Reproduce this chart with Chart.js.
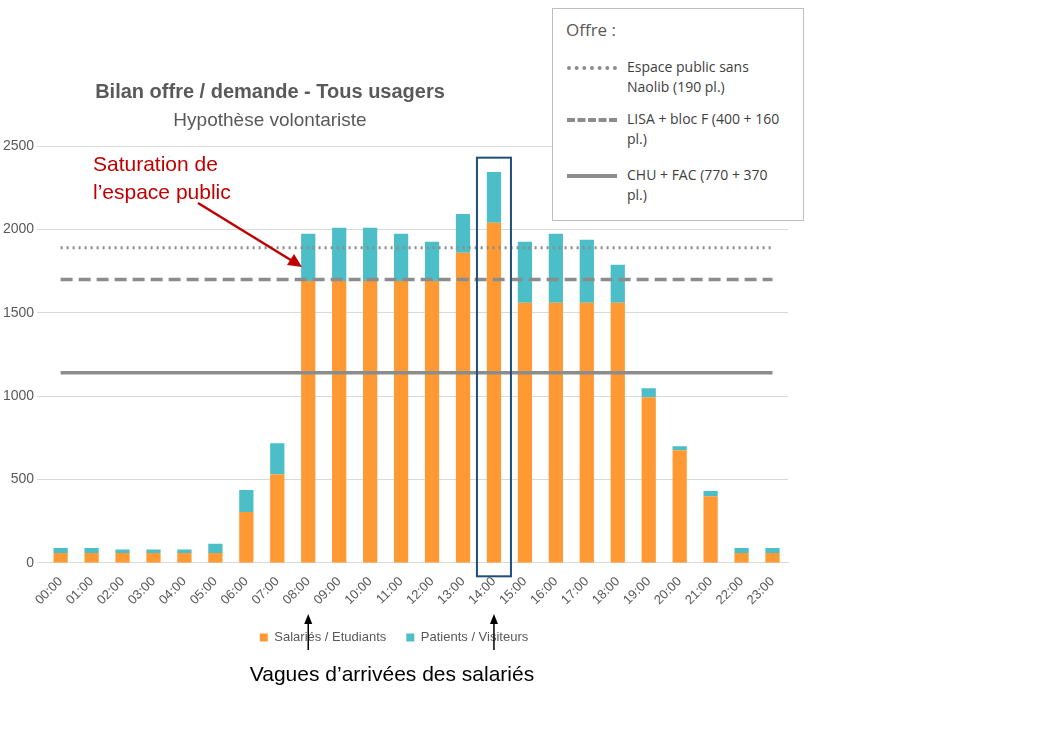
<!DOCTYPE html>
<html>
<head>
<meta charset="utf-8">
<script src="https://cdn.jsdelivr.net/npm/chart.js@4"></script>
<style>
  body { margin:0; background:#fff; font-family:"Liberation Sans", Arial, sans-serif; }
  #wrap { position:relative; width:1058px; height:734px; }
  #offre { position:absolute; left:552px; top:8px; width:250px; height:211px; border:1px solid #bfbfbf; background:#fff;
           font-family:"Open Sans", sans-serif; color:#404040; font-size:14px; }
  #offre .t { position:absolute; left:13px; top:9px; font-size:17px; color:#595959; }
  #offre .row { position:absolute; left:14px; width:230px; }
  #offre .sw { position:absolute; left:0; top:9px; width:50px; border-top:3px #8c8c8c; }
  #offre .lb { position:absolute; left:60px; top:0; line-height:20px; }
</style>
</head>
<body>
<div id="wrap">
  <canvas id="c" width="1058" height="734"></canvas>
  <div id="offre">
    <div class="t">Offre :</div>
    <div class="row" style="top:48px"><div class="sw" style="border-top-style:dotted;border-top-width:4px"></div><div class="lb">Espace public sans<br>Naolib (190 pl.)</div></div>
    <div class="row" style="top:100px"><div class="sw" style="border-top-style:dashed;border-top-width:4px"></div><div class="lb">LISA + bloc F (400 + 160<br>pl.)</div></div>
    <div class="row" style="top:156px"><div class="sw" style="border-top-style:solid;border-top-width:4px"></div><div class="lb">CHU + FAC (770 + 370<br>pl.)</div></div>
  </div>
</div>
<script>
// Heures et demandes (véhicules)
const heures = ['00:00','01:00','02:00','03:00','04:00','05:00','06:00','07:00','08:00','09:00','10:00','11:00',
                '12:00','13:00','14:00','15:00','16:00','17:00','18:00','19:00','20:00','21:00','22:00','23:00'];
const salaries = [60,60,60,60,60,60,305,532,1690,1690,1690,1690,1690,1860,2040,1560,1560,1560,1560,993,676,400,60,60];
const patients = [30,30,20,20,20,55,132,186,284,320,320,284,236,233,304,366,414,378,228,54,24,31,30,30];
// Offre
const offreEspacePublic = 1890;
const offreLisa = 1700;
const offreChu = 1140;
const yTicks = [0,500,1000,1500,2000,2500];

const annotations = {
  id:'annotations',
  afterDraw(chart) {
    const ctx = chart.ctx, x = chart.scales.x, y = chart.scales.y;
    ctx.save();
    ctx.textAlign = 'center';
    ctx.fillStyle = '#595959';
    ctx.font = 'bold 20px "Liberation Sans", Arial';
    ctx.fillText('Bilan offre / demande - Tous usagers', 270, 92);
    ctx.font = '19px "Liberation Sans", Arial';
    ctx.fillText('Hypothèse volontariste', 270, 121);
    // saturation
    ctx.textAlign = 'left';
    ctx.fillStyle = '#c00000';
    ctx.font = '21px "Liberation Sans", Arial';
    ctx.fillText('Saturation de', 93, 165);
    ctx.fillText('l\u2019espace public', 93, 193);
    ctx.strokeStyle = '#c00000'; ctx.lineWidth = 2.5;
    ctx.beginPath(); ctx.moveTo(198, 203); ctx.lineTo(294, 262); ctx.stroke();
    ctx.fillStyle = '#c00000';
    ctx.beginPath(); ctx.moveTo(302, 267); ctx.lineTo(287, 265); ctx.lineTo(294, 254); ctx.closePath(); ctx.fill();
    // cadre 14:00
    const cx = x.getPixelForValue(14);
    ctx.strokeStyle = '#1f4e79'; ctx.lineWidth = 2;
    ctx.strokeRect(cx - 17, y.getPixelForValue(2430), 34, y.getPixelForValue(-80) - y.getPixelForValue(2430));
    // flèches
    ctx.strokeStyle = '#000'; ctx.fillStyle = '#000'; ctx.lineWidth = 1.5;
    [8, 14].forEach(i => {
      const px = x.getPixelForValue(i);
      ctx.beginPath(); ctx.moveTo(px, 650); ctx.lineTo(px, 622); ctx.stroke();
      ctx.beginPath(); ctx.moveTo(px, 614); ctx.lineTo(px - 4, 624); ctx.lineTo(px + 4, 624); ctx.closePath(); ctx.fill();
    });
    ctx.textAlign = 'center';
    ctx.font = '21px "Liberation Sans", Arial';
    ctx.fillText('Vagues d\u2019arrivées des salariés', 392, 675);
    ctx.restore();
  }
};

const ligne = (label, val, dash, w, stack) => ({
  type:'line', label, data: heures.map(() => val), borderColor:'#8c8c8c', borderWidth:w,
  borderDash:dash, pointRadius:0, fill:false, order:0, stack
});

new Chart(document.getElementById('c'), {
  type:'bar',
  data:{
    labels: heures,
    datasets:[
      { label:'Salariés / Etudiants', data:salaries, backgroundColor:'#ff9933', stack:'s', order:1 },
      { label:'Patients / Visiteurs', data:patients, backgroundColor:'#4bbec8', stack:'s', order:1 },
      ligne('Espace public sans Naolib (190 pl.)', offreEspacePublic, [2,4], 3, 'l1'),
      ligne('LISA + bloc F (400 + 160 pl.)', offreLisa, [12,6], 3.5, 'l2'),
      ligne('CHU + FAC (770 + 370 pl.)', offreChu, [], 3.5, 'l3')
    ]
  },
  options:{
    responsive:false, animation:false,
    layout:{ padding:{ top:146, right:270, left:0, bottom:80 } },
    datasets:{ bar:{ barPercentage:0.46, categoryPercentage:1 } },
    scales:{
      x:{ stacked:true, grid:{ display:false }, border:{ color:'#d9d9d9' },
          ticks:{ color:'#595959', font:{ size:13, family:'"Liberation Sans", Arial' }, minRotation:45, maxRotation:45 } },
      y:{ stacked:true, min:0, max:2500, afterBuildTicks: s => { s.ticks = yTicks.map(v => ({ value:v })); },
          grid:{ color:'#d9d9d9' }, border:{ display:false },
          ticks:{ color:'#595959', font:{ size:14, family:'"Liberation Sans", Arial' }, callback: v => String(v) } }
    },
    plugins:{
      legend:{ position:'bottom', labels:{ filter: it => it.datasetIndex < 2, boxWidth:8, boxHeight:8,
               color:'#595959', font:{ size:13, family:'"Liberation Sans", Arial' }, padding:20 } },
      tooltip:{ enabled:false }
    }
  },
  plugins:[annotations]
});
</script>
</body>
</html>
